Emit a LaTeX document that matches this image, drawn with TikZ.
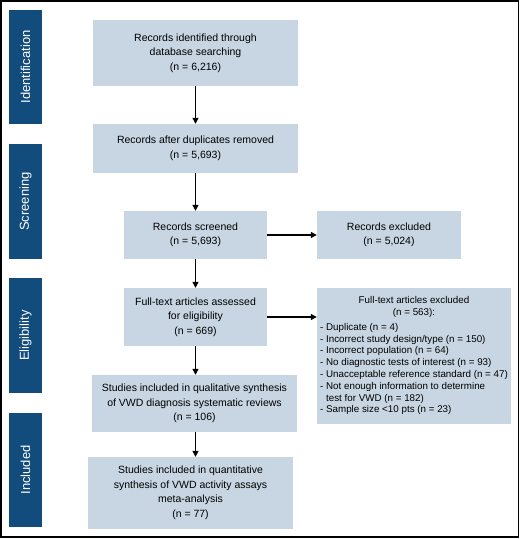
\documentclass[tikz,border=0pt]{standalone}
\usepackage{fontspec}
\setmainfont{Liberation Sans}
\usetikzlibrary{arrows.meta}
\definecolor{barblue}{RGB}{18,76,125}
\definecolor{boxblue}{RGB}{199,214,226}
\tikzset{
  box/.style={fill=boxblue, inner sep=0pt, align=center, font=\fontsize{10.5}{14.5}\selectfont},
  bar/.style={fill=barblue, text=white, rotate=90, inner sep=0pt, minimum height=33pt, font=\fontsize{13}{15}\selectfont},
  arr/.style={line width=1.2pt, -{Triangle[length=6pt,width=6pt]}}
}
\begin{document}
\begin{tikzpicture}[x=1pt,y=-1pt]
\useasboundingbox (0,0) rectangle (520,539);
\draw[line width=1.4pt] (1,1) rectangle (518.5,537);
% side bars
\node[bar, minimum width=114pt] (idb) at (25.5,67) {Identification};
\node[bar, minimum width=115pt] (scb) at (25.5,201.5) {Screening};
\node[bar, minimum width=115pt] (elb) at (25.5,335.5) {Eligibility};
\node[bar, minimum width=114pt] (inb) at (25.5,470) {Included};
% boxes
\node[box, minimum width=205pt, minimum height=66pt] (b1) at (195.5,53) {Records identified through\\database searching\\(n = 6,216)};
\node[box, minimum width=205pt, minimum height=49pt] (b2) at (195.5,148.5) {Records after duplicates removed\\(n = 5,693)};
\node[box, minimum width=143pt, minimum height=48pt] (b3) at (195.5,235) {Records screened\\(n = 5,693)};
\node[box, minimum width=144pt, minimum height=48pt] (ex1) at (389,235) {Records excluded\\(n = 5,024)};
\node[box, minimum width=143pt, minimum height=58pt] (b4) at (195.5,317) {Full-text articles assessed\\for eligibility\\(n = 669)};
\node[box, minimum width=194pt, minimum height=136pt, font=\fontsize{9.8}{11.8}\selectfont] (ex2) at (414,356) {%
\begin{tabular}{@{}l@{}}
\multicolumn{1}{@{}c@{}}{Full-text articles excluded}\\
\multicolumn{1}{@{}c@{}}{(n = 563):}\\[3pt]
- Duplicate (n = 4)\\
- Incorrect study design/type (n = 150)\\
- Incorrect population (n = 64)\\
- No diagnostic tests of interest (n = 93)\\
- Unacceptable reference standard (n = 47)\\
- Not enough information to determine\\
\phantom{- }test for VWD (n = 182)\\
- Sample size <10 pts (n = 23)
\end{tabular}};
\node[box, minimum width=205pt, minimum height=57pt] (b5) at (194.5,403.5) {Studies included in qualitative synthesis\\of VWD diagnosis systematic reviews\\(n = 106)};
\node[box, minimum width=205pt, minimum height=72pt] (b6) at (190.5,493) {Studies included in quantitative\\synthesis of VWD activity assays\\meta-analysis\\(n = 77)};
% arrows
\draw[arr] (b1.south) -- (b1.south |- b2.north);
\draw[arr] (b2.south) -- (b2.south |- b3.north);
\draw[arr] (b3.south) -- (b3.south |- b4.north);
\draw[arr] (b4.south) -- (b4.south |- b5.north);
\draw[arr] (b4.south |- b5.south) -- (b4.south |- b6.north);
\draw[arr] (b3.east) -- (ex1.west);
\draw[arr] (b4.east) -- (b4.east -| ex2.west);
\end{tikzpicture}
\end{document}
